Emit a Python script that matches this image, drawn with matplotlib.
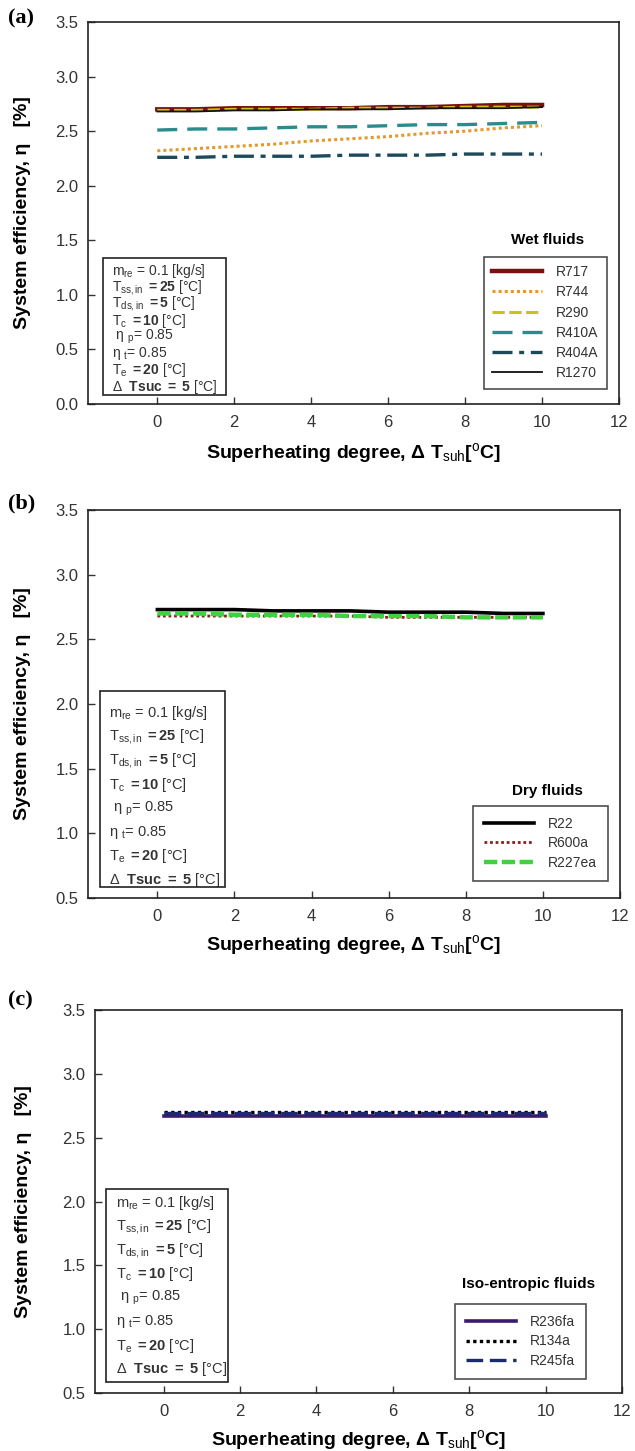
import matplotlib
matplotlib.use("Agg")
import matplotlib.pyplot as plt
from matplotlib.patches import Rectangle

plt.rcParams['font.family'] = ['Liberation Sans', 'DejaVu Sans']
plt.rcParams['mathtext.fontset'] = 'custom'
plt.rcParams['mathtext.rm'] = 'Liberation Sans'
plt.rcParams['mathtext.it'] = 'Liberation Sans'
plt.rcParams['mathtext.bf'] = 'Liberation Sans:bold'
plt.rcParams['mathtext.default'] = 'rm'

# ---------------- data ----------------
x = [0, 1, 2, 3, 4, 5, 6, 7, 8, 9, 10]

# (a) wet fluids
wet_names = ["R717", "R744", "R290", "R410A", "R404A", "R1270"]
r717 = [2.70, 2.70, 2.71, 2.71, 2.71, 2.71, 2.72, 2.72, 2.73, 2.74, 2.74]
r744 = [2.32, 2.34, 2.36, 2.38, 2.41, 2.43, 2.45, 2.48, 2.50, 2.53, 2.55]
r290 = [2.69, 2.69, 2.70, 2.70, 2.70, 2.71, 2.71, 2.71, 2.72, 2.72, 2.72]
r410a = [2.51, 2.52, 2.52, 2.53, 2.54, 2.54, 2.55, 2.56, 2.56, 2.57, 2.58]
r404a = [2.26, 2.26, 2.27, 2.27, 2.27, 2.28, 2.28, 2.28, 2.29, 2.29, 2.29]
r1270 = [2.68, 2.68, 2.69, 2.69, 2.70, 2.70, 2.70, 2.71, 2.71, 2.71, 2.72]

# (b) dry fluids
dry_names = ["R22", "R600a", "R227ea"]
r22 = [2.73, 2.73, 2.73, 2.72, 2.72, 2.72, 2.71, 2.71, 2.71, 2.70, 2.70]
r600a = [2.68, 2.68, 2.68, 2.68, 2.68, 2.68, 2.67, 2.67, 2.67, 2.67, 2.67]
r227ea = [2.70, 2.70, 2.69, 2.69, 2.69, 2.68, 2.68, 2.68, 2.67, 2.67, 2.67]

# (c) iso-entropic fluids
iso_names = ["R236fa", "R134a", "R245fa"]
r236fa = [2.67, 2.67, 2.67, 2.67, 2.67, 2.67, 2.67, 2.67, 2.67, 2.67, 2.67]
r134a = [2.70, 2.70, 2.70, 2.70, 2.70, 2.70, 2.70, 2.70, 2.70, 2.70, 2.70]
r245fa = [2.69, 2.69, 2.69, 2.69, 2.69, 2.69, 2.69, 2.69, 2.69, 2.69, 2.69]

x_ticks = [0, 2, 4, 6, 8, 10, 12]
yticks_a = [0.0, 0.5, 1.0, 1.5, 2.0, 2.5, 3.0, 3.5]
yticks_bc = [0.5, 1.0, 1.5, 2.0, 2.5, 3.0, 3.5]

box_lines = [
    r"$m_{re}$ = 0.1 [kg/s]",
    r"$T_{ss,in}$ $\mathbf{= 25}$ [°C]",
    r"$T_{ds,in}$ $\mathbf{= 5}$ [°C]",
    r"$T_{c}$ $\mathbf{= 10}$ [°C]",
    r" $\eta\ _{p}$= 0.85",
    r"$\eta\ _{t}$= 0.85",
    r"$T_{e}$ $\mathbf{= 20}$ [°C]",
    r"Δ  $\mathbf{Tsuc\ =\ 5}$ [°C]",
]

W, H = 635, 1451
fig = plt.figure(figsize=(W / 100, H / 100), dpi=100)


def px_axes(left, right, top, bottom):
    return fig.add_axes([left / W, 1 - bottom / H, (right - left) / W, (bottom - top) / H])


def style(ax, yticks, ylim):
    ax.set_xlim(-1.8, 12)
    ax.set_ylim(*ylim)
    ax.set_xticks(x_ticks)
    ax.set_yticks(yticks)
    ax.set_yticklabels([f"{v:.1f}" for v in yticks])
    ax.tick_params(direction='in', length=5, width=1, labelsize=12,
                   colors='#333333', top=False, right=False)
    ax.tick_params(axis='y', pad=7)
    ax.tick_params(axis='x', pad=8)
    for s in ax.spines.values():
        s.set_linewidth(1.2)
        s.set_color('#222222')
    ax.set_ylabel("System efficiency, η   [%]", fontsize=14, fontweight='bold')
    ax.set_xlabel(r"Superheating degree, Δ T$_{\rm suh}$[$^{\rm o}$C]", fontsize=14,
                  fontweight='bold')


def param_box(ax, left, right, top, bottom, first, step, fs):
    ax.add_patch(Rectangle((left, bottom), right - left, top - bottom, transform=ax.transAxes,
                           fill=False, edgecolor='#222222', linewidth=1.2, zorder=5))
    for i, t in enumerate(box_lines):
        ax.text(left + 0.018, first - i * step, t, transform=ax.transAxes,
                fontsize=fs, color='#333333', va='center', ha='left', zorder=6)


def style_legend(leg):
    leg.get_frame().set_linewidth(1.2)
    for t in leg.get_texts():
        t.set_color('#333333')


# ---------------- panel (a) ----------------
axa = px_axes(88, 619, 22, 404)
axa.plot(x, r717, color='#7a1010', lw=3.2, ls='-', label="R717")
axa.plot(x, r744, color='#e39a2d', lw=2.2, ls=(0, (1, 1)), label="R744")
axa.plot(x, r290, color='#c9c21a', lw=2.2, ls=(0, (4, 1.5)), label="R290")
axa.plot(x, r410a, color='#2a8c8c', lw=2.4, ls=(0, (6, 3)), label="R410A")
axa.plot(x, r404a, color='#1d4a5a', lw=2.4, ls=(0, (6, 2, 1.5, 2)), label="R404A")
axa.plot(x, r1270, color='#111111', lw=1.3, ls='-', label="R1270")
style(axa, yticks_a, (0, 3.5))
axa.yaxis.set_label_coords(-0.108, 0.5)
axa.xaxis.set_label_coords(0.5, -0.097)
leg = axa.legend(loc='lower right', bbox_to_anchor=(0.99, 0.022), fontsize=10,
                 frameon=True, fancybox=False, edgecolor='#222222', handlelength=3.6,
                 labelspacing=0.45, borderpad=0.6, handletextpad=1.0)
style_legend(leg)
axa.text(0.866, 0.43, "Wet fluids", transform=axa.transAxes, fontsize=11,
         fontweight='bold', ha='center', va='center')
param_box(axa, 0.028, 0.26, 0.382, 0.024, 0.349, 0.0435, 10)
fig.text(8 / W, 1 - 18 / H, "(a)", family='Liberation Serif', fontsize=16,
         fontweight='bold', va='center', ha='left')

# ---------------- panel (b) ----------------
axb = px_axes(88, 620, 510, 898)
axb.plot(x, r22, color='#000000', lw=2.6, ls='-', label="R22")
axb.plot(x, r600a, color='#8a1f1f', lw=2.0, ls=(0, (1, 1)), label="R600a")
axb.plot(x, r227ea, color='#3fd13f', lw=3.2, ls=(0, (3, 1)), label="R227ea")
style(axb, yticks_bc, (0.5, 3.5))
axb.yaxis.set_label_coords(-0.108, 0.5)
axb.xaxis.set_label_coords(0.5, -0.09)
leg = axb.legend(loc='lower right', bbox_to_anchor=(0.99, 0.026), fontsize=10,
                 frameon=True, fancybox=False, edgecolor='#222222', handlelength=3.6,
                 labelspacing=0.4, borderpad=0.8, handletextpad=1.0)
style_legend(leg)
axb.text(0.864, 0.276, "Dry fluids", transform=axb.transAxes, fontsize=11,
         fontweight='bold', ha='center', va='center')
param_box(axb, 0.022, 0.258, 0.534, 0.028, 0.477, 0.0616, 10.5)
fig.text(8 / W, 1 - 503 / H, "(b)", family='Liberation Serif', fontsize=16,
         fontweight='bold', va='center', ha='left')

# ---------------- panel (c) ----------------
axc = px_axes(95, 622, 1010, 1393)
axc.plot(x, r236fa, color='#3a1a6e', lw=2.6, ls='-', label="R236fa")
axc.plot(x, r134a, color='#000000', lw=2.4, ls=(0, (1, 1)), label="R134a")
axc.plot(x, r245fa, color='#1a2a6a', lw=2.4, ls=(0, (5, 2)), label="R245fa")
style(axc, yticks_bc, (0.5, 3.5))
axc.yaxis.set_label_coords(-0.12, 0.5)
axc.xaxis.set_label_coords(0.5, -0.092)
leg = axc.legend(loc='lower right', bbox_to_anchor=(0.945, 0.018), fontsize=10,
                 frameon=True, fancybox=False, edgecolor='#222222', handlelength=3.6,
                 labelspacing=0.4, borderpad=0.8, handletextpad=1.0)
style_legend(leg)
axc.text(0.823, 0.285, "Iso-entropic fluids", transform=axc.transAxes, fontsize=11,
         fontweight='bold', ha='center', va='center')
param_box(axc, 0.021, 0.253, 0.533, 0.029, 0.496, 0.062, 10.5)
fig.text(8 / W, 1 - 1000 / H, "(c)", family='Liberation Serif', fontsize=16,
         fontweight='bold', va='center', ha='left')

fig.savefig("out.png", dpi=100)
